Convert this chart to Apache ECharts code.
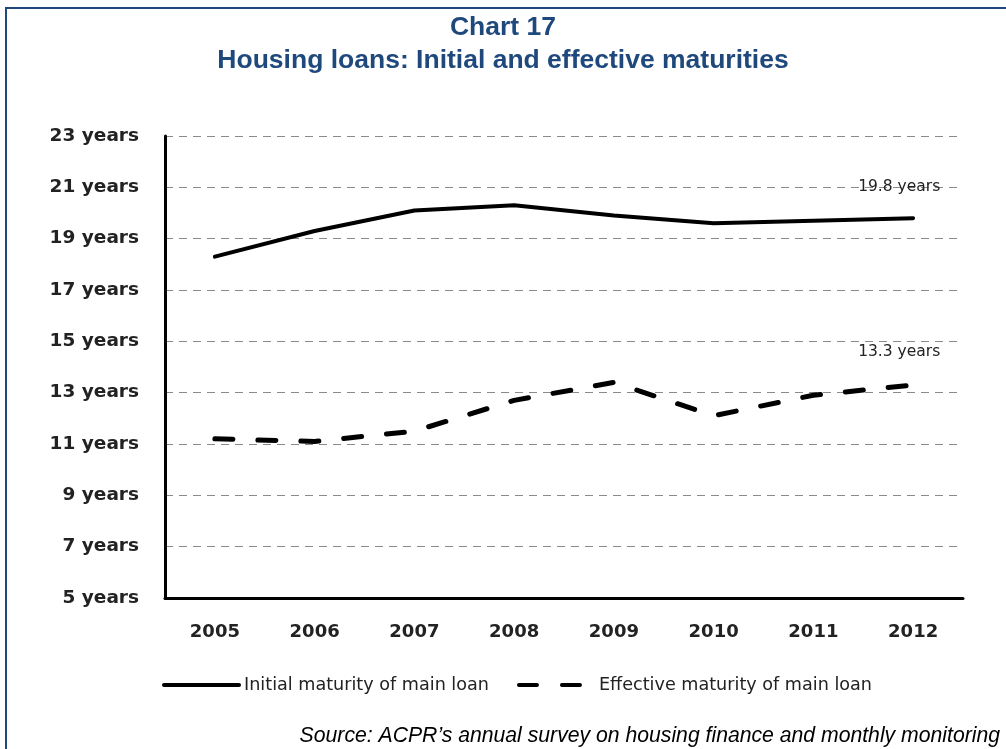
<!DOCTYPE html>
<html>
<head>
<meta charset="utf-8">
<script src="https://cdn.jsdelivr.net/npm/echarts@6/dist/echarts.min.js"></script>
<style>
  html, body { margin: 0; padding: 0; background: #fff; }
  #chart { width: 1006px; height: 749px; }
</style>
</head>
<body>
<div id="chart"></div>
<script>
// Housing loans: initial vs effective maturity (years)
const years = ['2005', '2006', '2007', '2008', '2009', '2010', '2011', '2012'];
const initialMaturity = [18.3, 19.3, 20.1, 20.3, 19.9, 19.6, 19.7, 19.8];
const effectiveMaturity = [11.2, 11.1, 11.5, 12.7, 13.4, 12.1, 12.9, 13.3];
const yTicks = [5, 7, 9, 11, 13, 15, 17, 19, 21, 23];

const navy = '#1f497d';
const textFont = 'DejaVu Sans';

// value label sitting above the last point of a series
const endLabel = (dy) => ({
  show: true,
  offset: [-63, dy],
  formatter: p => p.value + ' years',
  fontFamily: textFont,
  fontSize: 15.5,
  color: '#222'
});

const chart = echarts.init(document.getElementById('chart'));
chart.setOption({
  animation: false,
  title: {
    text: 'Chart 17\nHousing loans: Initial and effective maturities',
    left: 'center',
    top: 6,
    textStyle: {
      fontFamily: 'Liberation Sans',
      fontWeight: 'bold',
      fontSize: 26.5,
      lineHeight: 33,
      color: navy
    }
  },
  graphic: [{
    type: 'rect',
    shape: { x: 6, y: 8, width: 1100, height: 900 },
    style: { fill: 'none', stroke: navy, lineWidth: 2 }
  }, {
    type: 'text',
    right: 6,
    top: 726,
    style: {
      text: 'Source: ACPR\u2019s annual survey on housing finance and monthly monitoring',
      font: 'italic 21.2px "Liberation Sans"',
      fill: '#000'
    }
  }],
  legend: {
    top: 671,
    left: 157,
    itemWidth: 75,
    itemHeight: 14,
    itemGap: 28,
    lineStyle: { width: 4 },
    itemStyle: { color: 'rgba(0,0,0,0)', borderWidth: 0 },
    textStyle: { fontFamily: textFont, fontSize: 17.6, color: '#222' },
    data: ['Initial maturity of main loan', 'Effective maturity of main loan']
  },
  grid: { left: 165, right: 43, top: 136, bottom: 151 },
  xAxis: {
    type: 'category',
    data: years,
    boundaryGap: true,
    axisLine: { lineStyle: { color: '#000', width: 3 } },
    axisTick: { show: false },
    axisLabel: {
      margin: 25,
      fontFamily: textFont,
      fontSize: 18,
      fontWeight: 'bold',
      color: '#222'
    }
  },
  yAxis: {
    type: 'value',
    min: yTicks[0],
    max: yTicks[yTicks.length - 1],
    interval: 2,
    axisLine: { show: true, lineStyle: { color: '#000', width: 3 } },
    axisTick: { show: false },
    axisLabel: {
      margin: 26,
      fontFamily: textFont,
      fontSize: 18.5,
      fontWeight: 'bold',
      color: '#222',
      formatter: v => v + ' years'
    },
    splitLine: {
      lineStyle: { color: '#8a8a8a', type: [8, 6], width: 1 }
    }
  },
  series: [{
    name: 'Initial maturity of main loan',
    type: 'line',
    data: initialMaturity,
    symbol: 'none',
    lineStyle: { color: '#000', width: 4, cap: 'round', join: 'round' },
    itemStyle: { color: '#000' },
    endLabel: endLabel(-31)
  }, {
    name: 'Effective maturity of main loan',
    type: 'line',
    data: effectiveMaturity,
    symbol: 'none',
    lineStyle: { color: '#000', width: 5, type: [18, 25], cap: 'round', join: 'round' },
    itemStyle: { color: '#000' },
    endLabel: endLabel(-33)
  }]
});
</script>
</body>
</html>
